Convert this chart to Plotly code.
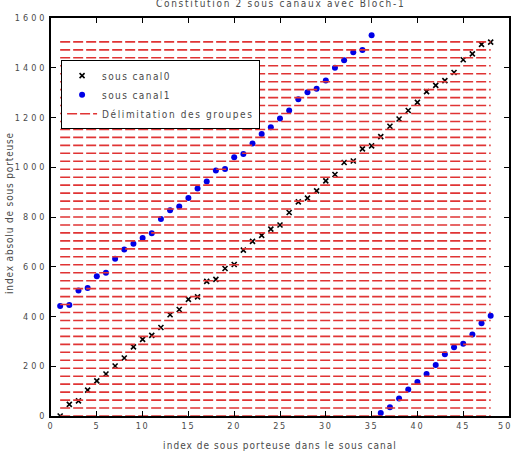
import plotly.graph_objects as go

subcarrier_index = list(range(1, 49))

canal0 = [0, 47, 61, 104, 141, 169, 201, 233, 278, 308, 324, 356, 407, 428, 469, 479,
          541, 549, 593, 609, 667, 702, 726, 751, 768, 818, 861, 876, 905, 945, 971, 1019,
          1025, 1074, 1086, 1123, 1165, 1194, 1228, 1261, 1304, 1329, 1348, 1381, 1432, 1456, 1494, 1503]

canal1 = [442, 446, 505, 515, 562, 576, 632, 669, 692, 716, 735, 792, 827, 842, 876, 915,
          943, 987, 993, 1040, 1053, 1095, 1134, 1161, 1196, 1228, 1273, 1302, 1316, 1349, 1400, 1430,
          1462, 1471, 1531, 12, 35, 70, 107, 137, 169, 205, 248, 276, 290, 328, 373, 403]

group_bounds = [0, 32, 64, 96, 128, 160, 192, 224, 256, 288, 320, 352, 384, 416, 448, 480,
                512, 544, 576, 608, 640, 672, 704, 736, 768, 800, 832, 864, 896, 928, 960, 992,
                1024, 1056, 1088, 1120, 1152, 1184, 1216, 1248, 1280, 1312, 1344, 1376, 1408, 1440, 1472, 1504]
group_x_extent = [1, 48]

x_ticks = [0, 5, 10, 15, 20, 25, 30, 35, 40, 45, 50]
y_ticks = [0, 200, 400, 600, 800, 1000, 1200, 1400, 1600]

FONT = "DejaVu Sans Condensed, DejaVu Sans, sans-serif"
TXT = "#4a4a4a"

def spaced(s, ls="1.7px"):
    return f'<span style="letter-spacing:{ls}">{s}</span>'

lx, ly = [], []
for b in group_bounds:
    lx += [group_x_extent[0], group_x_extent[1], None]
    ly += [b, b, None]

fig = go.Figure()
fig.add_trace(go.Scatter(
    x=subcarrier_index, y=canal0, mode="markers", name=spaced("sous canal0", "1.4px"),
    marker=dict(symbol="x-thin", size=5, line=dict(color="black", width=1.6), color="black")))
fig.add_trace(go.Scatter(
    x=subcarrier_index, y=canal1, mode="markers", name=spaced("sous canal1", "1.4px"),
    marker=dict(symbol="circle", size=6, color="#0000e6")))
fig.add_trace(go.Scatter(
    x=lx, y=ly, mode="lines", name=spaced("Délimitation des groupes", "1.6px"),
    line=dict(color="#e03434", width=1.6, dash="10px,3px")))

# last x tick label is drawn as an annotation at x=50 so that it stays inside the page
last_x = x_ticks[-1]
x_ticktext = [spaced(str(v)) for v in x_ticks[:-1]] + [""]

fig.update_layout(
    width=514, height=457,
    margin=dict(l=51, r=5, t=18, b=41),
    paper_bgcolor="white", plot_bgcolor="white",
    font=dict(family=FONT, size=10, color=TXT),
    showlegend=True,
    legend=dict(x=0.022, y=0.894, xanchor="left", yanchor="top",
                bgcolor="white", bordercolor="black", borderwidth=1,
                font=dict(family=FONT, size=10, color=TXT),
                tracegroupgap=0, itemwidth=30),
    xaxis=dict(range=[0, 50], tickvals=x_ticks, ticktext=x_ticktext,
               tickfont=dict(size=9, color=TXT),
               ticks="inside", ticklen=5, tickcolor="black", ticklabeloverflow="allow",
               showline=True, linecolor="black", linewidth=1.5, mirror="ticks",
               showgrid=False, zeroline=False, automargin=False,
               title=dict(text=spaced("index de sous porteuse dans le sous canal", "1.05px"), standoff=12,
                          font=dict(size=10, color=TXT))),
    yaxis=dict(range=[0, 1600], tickvals=y_ticks, ticktext=[spaced(str(v), "3px") for v in y_ticks],
               tickfont=dict(size=9, color=TXT),
               ticks="inside", ticklen=5, tickcolor="black", ticklabelstandoff=0,
               showline=True, linecolor="black", linewidth=1.5, mirror="ticks",
               showgrid=False, zeroline=False, automargin=False),
    annotations=[
        dict(text=spaced("Constitution 2 sous canaux avec Bloch-1"),
             x=0.5, xref="paper", y=1 + 15 / 398, yref="paper", yanchor="middle",
             showarrow=False, font=dict(size=10, color=TXT)),
        dict(text=spaced("index absolu de sous porteuse", "0.85px"), textangle=-90,
             x=-42 / 458, xref="paper", xanchor="center",
             y=0.51, yref="paper", yanchor="middle",
             showarrow=False, font=dict(size=10, color=TXT)),
        dict(text=f'<span style="letter-spacing:2px">{str(last_x)[0]}</span>{str(last_x)[1:]}',
             x=last_x, xref="x", xanchor="right", xshift=3,
             y=0, yref="paper", yanchor="top", yshift=-3,
             showarrow=False, font=dict(size=9, color=TXT)),
    ],
)

fig.write_html("out.html")
